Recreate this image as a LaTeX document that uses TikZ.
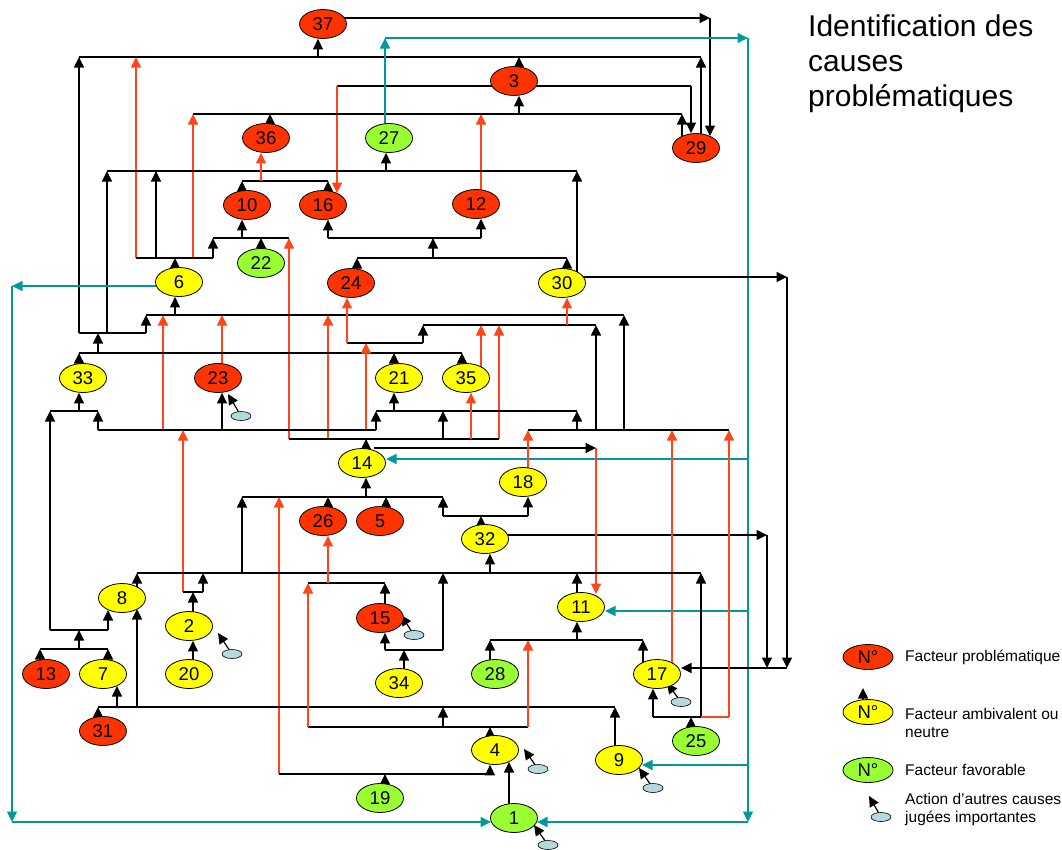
\documentclass[tikz,border=0pt]{standalone}
\usepackage{fontspec}
\setmainfont{Liberation Sans}
\usetikzlibrary{shapes.geometric,arrows.meta}
\definecolor{probred}{RGB}{255,51,0}
\definecolor{ambyellow}{RGB}{255,255,0}
\definecolor{favgreen}{RGB}{153,255,51}
\definecolor{linkred}{RGB}{255,69,25}
\definecolor{linkteal}{RGB}{0,153,153}
\definecolor{causeblue}{RGB}{183,217,222}
\pgfdeclarelayer{paper}
\pgfdeclarelayer{links}
\pgfsetlayers{paper,links,main}
\begin{document}
\begin{tikzpicture}[x=1pt,y=-1pt,
  >={Triangle[width=10pt,length=10.5pt]},
  fac/.style={ellipse,draw=black,line width=0.8pt,minimum width=47pt,minimum height=29pt,inner sep=0pt,font=\fontsize{18.5}{18.5}\selectfont},
  pb/.style={fac,fill=probred},
  am/.style={fac,fill=ambyellow},
  fv/.style={fac,fill=favgreen},
  keyfac/.style={minimum width=50pt,minimum height=25pt},
  cause/.style={ellipse,draw=black,line width=0.6pt,fill=causeblue,minimum width=20pt,minimum height=9pt,inner sep=0pt},
  lk/.style={line width=1.2pt,black},
  ak/.style={lk,->},
  rl/.style={line width=1.2pt,linkred},
  ra/.style={rl,->},
  tl/.style={line width=1.3pt,linkteal},
  ta/.style={tl,->},
  legtext/.style={anchor=west,align=left,inner sep=0pt,font=\fontsize{15.5}{18}\selectfont}]
\useasboundingbox (0,0) rectangle (1062,849);
\begin{pgfonlayer}{paper}
  \fill[white] (0,0) rectangle (1062,849);
\end{pgfonlayer}

% ---- factors ----
\node[pb] (n37) at (323,24) {37};
\node[pb] (n3) at (514,81) {3};
\node[pb] (n36) at (266,138) {36};
\node[fv] (n27) at (389,138) {27};
\node[pb] (n29) at (696,148) {29};
\node[pb] (n10) at (247,205) {10};
\node[pb] (n16) at (323,205) {16};
\node[pb] (n12) at (476,204) {12};
\node[fv] (n22) at (261,263) {22};
\node[am] (n6) at (179,282) {6};
\node[pb] (n24) at (351,283) {24};
\node[am] (n30) at (562,283) {30};
\node[am] (n33) at (83,378) {33};
\node[pb] (n23) at (218,378) {23};
\node[am] (n21) at (399,378) {21};
\node[am] (n35) at (466,378) {35};
\node[am] (n14) at (362,463) {14};
\node[am] (n18) at (523,482) {18};
\node[pb] (n26) at (323,521) {26};
\node[pb] (n5) at (380,521) {5};
\node[am] (n32) at (485,539) {32};
\node[am] (n8) at (122,598) {8};
\node[am] (n2) at (189,626) {2};
\node[pb] (n15) at (380,618) {15};
\node[am] (n11) at (581,607) {11};
\node[pb] (n13) at (46,674) {13};
\node[am] (n7) at (103,674) {7};
\node[am] (n20) at (189,674) {20};
\node[am] (n34) at (399,683) {34};
\node[fv] (n28) at (495,674) {28};
\node[am] (n17) at (657,674) {17};
\node[pb] (n31) at (103,731) {31};
\node[fv] (n25) at (696,741) {25};
\node[am] (n4) at (495,750) {4};
\node[am] (n9) at (619,760) {9};
\node[fv] (n19) at (380,798) {19};
\node[fv] (n1) at (514,818) {1};

% other causes acting on some factors
\node[cause] (c23) at (241,416) {};
\node[cause] (c2) at (232,654) {};
\node[cause] (c15) at (414,635) {};
\node[cause] (c4) at (538,769) {};
\node[cause] (c17) at (681,702) {};
\node[cause] (c9) at (653,788) {};
\node[cause] (c1) at (548,845) {};

% ---- title ----
\node[anchor=north west,align=left,inner sep=0pt,font=\fontsize{30}{35}\selectfont] (title) at (808,15)
  {Identification des\\causes\\problématiques};

% ---- key ----
\node[pb,keyfac] (kp) at (868,657) {N°};
\node[am,keyfac] (ka) at (868,712) {N°};
\node[fv,keyfac] (kf) at (868,770) {N°};
\node[cause] (kc) at (881,817) {};
\node[legtext] (tp) at (905,657) {Facteur problématique};
\node[legtext] (ta) at (905,723) {Facteur ambivalent ou\\neutre};
\node[legtext] (tf) at (905,770) {Facteur favorable};
\node[legtext] (tc) at (905,809) {Action d’autres causes\\jugées importantes};

\begin{pgfonlayer}{links}
% key arrows
\draw[ak] (ka -| 863,0) -- (863,688);
\draw[ak] (kc.center) -- (869,796);

% cause arrows
\draw[ak] (c23.center) -- (228,394);
\draw[ak] (c2.center) -- (218,633);
\draw[ak] (c15.center) -- (401,615);
\draw[ak] (c4.center) -- (524,749);
\draw[ak] (c17.center) -- (667,683);
\draw[ak] (c9.center) -- (639,768);
\draw[ak] (c1.center) -- (534,825);

% 37 -> 29
\draw[ak] (n37 |- 0,18) -- (710,18);
\draw[ak] (710,18) -- (710,136);
% 3 -> 16 and 3 -> 29
\draw[lk] (n3 |- 0,86) -- (337,86);
\draw[ra] (337,86) -- (337,193);
\draw[lk] (n3 |- 0,86) -- (691,86);
\draw[ak] (691,86) -- (691,0 |- n29.north);

% junction into 37
\draw[lk] (79,57) -- (701,57);
\draw[ak] (318,57) -- (318,0 |- n37.south);
\draw[ak] (79,333) -- (79,57);
\draw[ra] (136,258) -- (136,57);
\draw[ak] (n29 -| 701,0) -- (701,57);
\draw[ak] (n3 -| 519,0) -- (519,57);

% junction into 3
\draw[lk] (193,114) -- (682,114);
\draw[ak] (519,114) -- (519,0 |- n3.south);
\draw[ra] (193,258) -- (193,114);
\draw[ak] (n36 -| 270,0) -- (270,114);
\draw[ra] (n12 -| 481,0) -- (481,114);
\draw[ak] (n29 -| 682,0) -- (682,114);

% junction into 27
\draw[lk] (107,171) -- (577,171);
\draw[ak] (386,171) -- (386,0 |- n27.south);
\draw[ak] (107,333) -- (107,171);
\draw[ak] (156,258) -- (156,171);
\draw[ak] (n30 -| 577,0) -- (577,171);

% 27 feedback loop (teal)
\draw[ta] (n27 -| 385,0) -- (385,38);
\draw[ta] (385,38) -- (748,38);
\draw[ta] (748,38) -- (748,822);
\draw[ta] (748,822) -- (537,822);
\draw[ta] (748,459) -- (386,459);
\draw[ta] (748,611) -- (605,611);
\draw[ta] (748,765) -- (642,765);

% 10 + 16 -> 36
\draw[lk] (242,181) -- (328,181);
\draw[ra] (261,181) -- (261,0 |- n36.south);
\draw[ak] (n10 -| 242,0) -- (242,181);
\draw[ak] (n16 -| 328,0) -- (328,181);

% junction into 10
\draw[lk] (213,238) -- (289,238);
\draw[ak] (242,238) -- (242,0 |- n10.south);
\draw[ak] (n22 -| 261,0) -- (261,238);
\draw[ak] (213,258) -- (213,238);
\draw[ra] (289,439) -- (289,238);

% outputs of 6
\draw[lk] (136,258) -- (213,258);
\draw[ak] (n6 -| 175,0) -- (175,258);

% junction into 16 and 12
\draw[lk] (328,238) -- (481,238);
\draw[ak] (328,238) -- (328,0 |- n16.south);
\draw[ak] (481,238) -- (481,0 |- n12.south);
\draw[ak] (433,258) -- (433,238);
\draw[lk] (357,258) -- (567,258);
\draw[ak] (n24 -| 357,0) -- (357,258);
\draw[ak] (n30 -| 567,0) -- (567,258);

% 30 -> 17 and 32 -> 17
\draw[ak] (n30 |- 0,277) -- (787,277);
\draw[ak] (787,277) -- (787,668);
\draw[ak] (787,668) -- (681,668);
\draw[ak] (n32 |- 0,535) -- (767,535);
\draw[ak] (767,535) -- (767,668);

% 6 -> 1 (teal)
\draw[ta] (n6 |- 0,286) -- (12,286);
\draw[ta] (12,286) -- (12,822);
\draw[ta] (12,822) -- (491,822);

% junction into 6
\draw[lk] (146,315) -- (624,315);
\draw[ak] (175,315) -- (175,0 |- n6.south);
\draw[ak] (146,333) -- (146,315);
\draw[ra] (163,430) -- (163,315);
\draw[ra] (n23 -| 222,0) -- (222,315);
\draw[ra] (328,439) -- (328,315);
\draw[ak] (624,430) -- (624,315);

% 33 + 21 + 35 outputs
\draw[lk] (79,333) -- (146,333);
\draw[ak] (98,353) -- (98,333);
\draw[lk] (79,353) -- (462,353);
\draw[ak] (n33 -| 79,0) -- (79,353);
\draw[ak] (n21 -| 394,0) -- (394,353);
\draw[ak] (n35 -| 462,0) -- (462,353);

% into 24 and 30
\draw[lk] (347,343) -- (423,343);
\draw[ra] (347,343) -- (347,0 |- n24.south);
\draw[ak] (423,343) -- (423,325);
\draw[ra] (366,430) -- (366,343);
\draw[lk] (423,325) -- (596,325);
\draw[ra] (567,325) -- (567,0 |- n30.south);
\draw[ra] (n35 -| 481,0) -- (481,325);
\draw[ra] (499,439) -- (499,325);
\draw[ak] (596,430) -- (596,325);

% junction into 33
\draw[lk] (50,411) -- (98,411);
\draw[ak] (79,411) -- (79,0 |- n33.south);
\draw[ak] (50,630) -- (50,411);
\draw[ak] (98,430) -- (98,411);

% outputs of 2
\draw[lk] (98,430) -- (376,430);
\draw[ak] (222,430) -- (222,0 |- n23.south);
\draw[ak] (376,430) -- (376,411);
\draw[ra] (183,592) -- (183,430);

% junction into 21
\draw[lk] (376,411) -- (577,411);
\draw[ak] (394,411) -- (394,0 |- n21.south);
\draw[ak] (443,439) -- (443,411);
\draw[ak] (577,430) -- (577,411);

% outputs of 14
\draw[lk] (289,439) -- (499,439);
\draw[ak] (n14 -| 366,0) -- (366,439);
\draw[ra] (471,439) -- (471,0 |- n35.south);
\draw[ak] (374,448) -- (596,448);
\draw[ra] (596,448) -- (596,594);

% 18 + 17 + 25
\draw[lk] (528,430) -- (729,430);
\draw[ra] (n18 -| 528,0) -- (528,430);
\draw[ra] (n17 -| 672,0) -- (672,430);
\draw[ra] (729,717) -- (729,430);

% junction into 14
\draw[lk] (242,497) -- (443,497);
\draw[ak] (366,497) -- (366,0 |- n14.south);
\draw[ak] (n26 -| 328,0) -- (328,497);
\draw[ak] (n5 -| 386,0) -- (386,497);
\draw[ak] (443,516) -- (443,497);
\draw[ra] (279,774) -- (279,497);
\draw[ak] (242,573) -- (242,497);

% outputs of 32
\draw[lk] (443,516) -- (528,516);
\draw[ak] (n32 -| 481,0) -- (481,516);
\draw[ak] (528,516) -- (528,0 |- n18.south);

% junction into 32
\draw[lk] (137,573) -- (701,573);
\draw[ak] (n8 -| 137,0) -- (137,573);
\draw[ak] (203,592) -- (203,573);
\draw[ak] (443,650) -- (443,573);
\draw[ak] (490,573) -- (490,0 |- n32.south);
\draw[ak] (n11 -| 577,0) -- (577,573);
\draw[ak] (701,717) -- (701,573);

% 2 and 20
\draw[lk] (183,592) -- (203,592);
\draw[ak] (n2 -| 193,0) -- (193,592);
\draw[ak] (n20 -| 193,0) -- (193,0 |- n2.south);

% 13 + 7 -> 8 and 33
\draw[lk] (50,630) -- (108,630);
\draw[ak] (108,630) -- (108,610);
\draw[ak] (79,649) -- (79,630);
\draw[lk] (40,649) -- (108,649);
\draw[ak] (n13 -| 40,0) -- (40,649);
\draw[ak] (n7 -| 108,0) -- (108,649);

% 31 + 9 -> 7 and 8
\draw[lk] (98,707) -- (615,707);
\draw[ak] (n31 -| 98,0) -- (98,707);
\draw[ak] (117,707) -- (117,686);
\draw[ak] (137,707) -- (137,609);
\draw[ak] (443,727) -- (443,707);
\draw[ak] (n9 -| 615,0) -- (615,707);

% outputs of 4
\draw[lk] (308,727) -- (528,727);
\draw[ak] (n4 -| 490,0) -- (490,727);
\draw[ra] (308,727) -- (308,583);
\draw[ra] (528,727) -- (528,640);

% junction into 26
\draw[lk] (308,583) -- (385,583);
\draw[ak] (n15 -| 385,0) -- (385,583);
\draw[ra] (328,583) -- (328,0 |- n26.south);

% 34 -> 15
\draw[lk] (385,650) -- (443,650);
\draw[ak] (n34 -| 404,0) -- (404,650);
\draw[ak] (385,650) -- (385,0 |- n15.south);

% junction into 11
\draw[lk] (490,640) -- (643,640);
\draw[ak] (n28 -| 490,0) -- (490,640);
\draw[ak] (n17 -| 643,0) -- (643,640);
\draw[ak] (577,640) -- (577,0 |- n11.south);

% outputs of 25
\draw[lk] (653,717) -- (701,717);
\draw[rl] (701,717) -- (729,717);
\draw[ak] (n25 -| 691,0) -- (691,717);
\draw[ak] (653,717) -- (653,0 |- n17.south);

% 1 and 19 -> 4
\draw[ak] (n1 -| 509,0) -- (509,762);
\draw[lk] (279,774) -- (490,774);
\draw[ak] (n19 -| 385,0) -- (385,774);
\draw[ak] (490,774) -- (490,0 |- n4.south);
\end{pgfonlayer}
\end{tikzpicture}
\end{document}
